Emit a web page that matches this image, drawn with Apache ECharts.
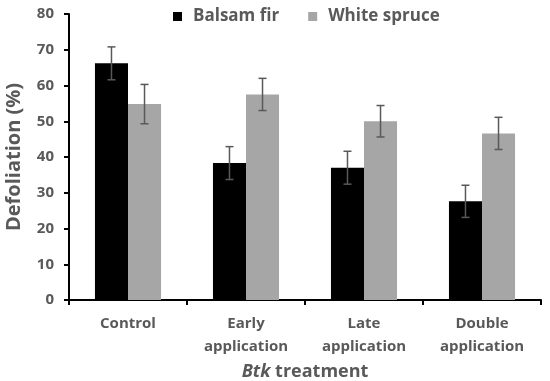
<!DOCTYPE html>
<html>
<head>
<meta charset="utf-8">
<script src="https://cdn.jsdelivr.net/npm/echarts@6/dist/echarts.min.js"></script>
<style>html,body{margin:0;padding:0;background:#fff}#c{width:550px;height:381px}</style>
</head>
<body>
<div id="c"></div>
<script>
const categories = ['Control', 'Early\napplication', 'Late\napplication', 'Double\napplication'];
const seriesNames = ['Balsam fir', 'White spruce'];
const balsamFir = [66.2, 38.3, 37.0, 27.6];
const balsamFirErr = [4.6, 4.6, 4.6, 4.5];
const whiteSpruce = [54.8, 57.5, 50.0, 46.6];
const whiteSpruceErr = [5.5, 4.5, 4.4, 4.5];
const yTicks = [0, 10, 20, 30, 40, 50, 60, 70, 80];

const txt = '#595959';
const font = 'Open Sans';
const barFrac = 0.28;

function errSeries(name, vals, errs, side) {
  return {
    type: 'custom',
    name: name + ' err',
    silent: true,
    z: 5,
    data: vals.map((v, i) => [i, v, errs[i]]),
    renderItem: function (params, api) {
      const i = api.value(0), v = api.value(1), e = api.value(2);
      const band = api.size([1, 0])[0];
      const x = api.coord([i, v])[0] + side * band * barFrac / 2;
      const yHi = api.coord([i, v + e])[1];
      const yLo = api.coord([i, v - e])[1];
      const cap = 4;
      const st = { stroke: '#595959', lineWidth: 1.5 };
      return {
        type: 'group',
        children: [
          { type: 'line', shape: { x1: x, y1: yHi, x2: x, y2: yLo }, style: st },
          { type: 'line', shape: { x1: x - cap, y1: yHi, x2: x + cap, y2: yHi }, style: st },
          { type: 'line', shape: { x1: x - cap, y1: yLo, x2: x + cap, y2: yLo }, style: st }
        ]
      };
    }
  };
}

const chart = echarts.init(document.getElementById('c'), null, { renderer: 'canvas' });
chart.setOption({
  animation: false,
  textStyle: { fontFamily: font },
  legend: {
    data: seriesNames,
    top: 3,
    left: 168,
    icon: 'rect',
    itemWidth: 9,
    itemHeight: 9,
    itemGap: 29,
    textStyle: { color: txt, fontSize: 17, fontWeight: 'bold', fontFamily: font, padding: [0, 0, 0, 6] }
  },
  grid: { left: 69, right: 9, top: 14, bottom: 81, containLabel: false, outerBoundsMode: 'none' },
  xAxis: {
    type: 'category',
    data: categories,
    axisLine: { lineStyle: { color: '#000', width: 2 } },
    axisTick: { show: true, length: 5, lineStyle: { color: '#000', width: 2 } },
    axisLabel: { color: txt, fontSize: 15, fontWeight: 'bold', fontFamily: font, margin: 12, lineHeight: 23 },
    name: '{i|Btk} treatment',
    nameLocation: 'middle',
    nameGap: 61,
    nameTextStyle: {
      color: txt, fontSize: 18, fontWeight: 'bold', fontFamily: font,
      rich: { i: { fontStyle: 'italic', color: txt, fontSize: 18, fontWeight: 'bold', fontFamily: font } }
    }
  },
  yAxis: {
    type: 'value',
    min: yTicks[0],
    max: yTicks[yTicks.length - 1],
    interval: 10,
    axisLine: { show: true, lineStyle: { color: '#000', width: 2 } },
    axisTick: { show: true, length: 5, lineStyle: { color: '#000', width: 2 } },
    splitLine: { show: false },
    axisLabel: { color: txt, fontSize: 15, fontWeight: 'bold', fontFamily: font, margin: 15 },
    name: 'Defoliation (%)',
    nameLocation: 'middle',
    nameGap: 45,
    nameTextStyle: { color: txt, fontSize: 20, fontWeight: 'bold', fontFamily: font }
  },
  series: [
    { name: seriesNames[0], type: 'bar', data: balsamFir, barWidth: (barFrac * 100) + '%', barGap: '0%', itemStyle: { color: '#000000' } },
    { name: seriesNames[1], type: 'bar', data: whiteSpruce, barWidth: (barFrac * 100) + '%', barGap: '0%', itemStyle: { color: '#a6a6a6' } },
    errSeries(seriesNames[0], balsamFir, balsamFirErr, -1),
    errSeries(seriesNames[1], whiteSpruce, whiteSpruceErr, 1)
  ]
});
</script>
</body>
</html>
